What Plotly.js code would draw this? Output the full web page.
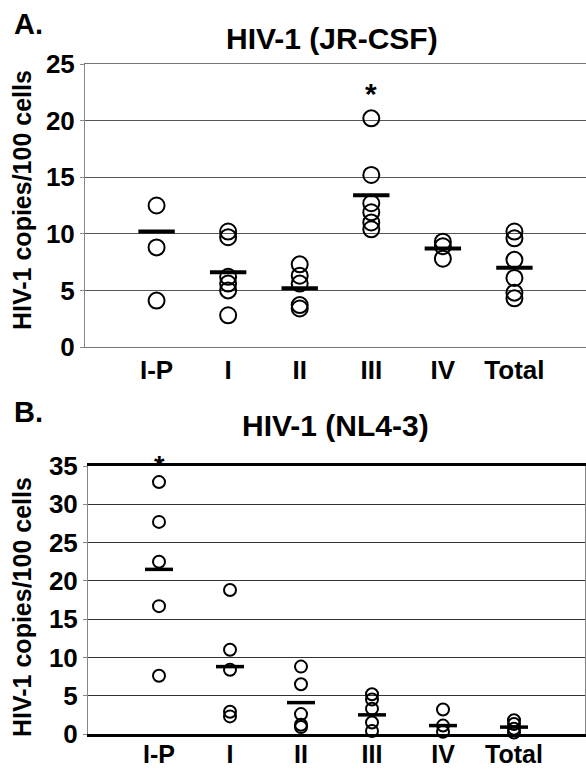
<!DOCTYPE html>
<html>
<head>
<meta charset="utf-8">
<script src="https://cdn.plot.ly/plotly-3.0.1.min.js"></script>
<style>html,body{margin:0;padding:0;background:#fff;}#chart{width:586px;height:770px;}</style>
</head>
<body>
<div id="chart"></div>
<script>
// Categories
var categories = ['I-P', 'I', 'II', 'III', 'IV', 'Total'];

// Panel A: HIV-1 (JR-CSF) individual values
var jrIP    = [12.5, 8.8, 4.1];
var jrI     = [10.2, 9.7, 6.2, 5.6, 5.0, 2.8];
var jrII    = [7.3, 6.3, 5.6, 3.7, 3.4];
var jrIII   = [20.2, 15.2, 12.7, 11.9, 11.0, 10.4];
var jrIV    = [9.3, 8.9, 7.8];
var jrTotal = [10.2, 9.6, 7.7, 6.1, 4.8, 4.3];
var jrMeans = [10.2, 6.6, 5.2, 13.4, 8.7, 7.0];
var jrStarCat = 'III';
var jrStarY = 22.4;

// Panel B: HIV-1 (NL4-3) individual values
var nlIP    = [32.9, 27.7, 22.5, 16.7, 7.6];
var nlI     = [18.8, 11.0, 8.4, 2.9, 2.3];
var nlII    = [8.8, 6.5, 2.6, 1.2, 0.9];
var nlIII   = [5.2, 4.5, 3.3, 1.5, 0.4];
var nlIV    = [3.2, 1.1, 0.3];
var nlTotal = [1.8, 1.3, 0.7, 0.2];
var nlMeans = [21.5, 8.8, 4.1, 2.5, 1.1, 0.9];
var nlStarCat = 'I-P';
var nlStarY = 35.0;

var yTicksA = [0, 5, 10, 15, 20, 25];
var yTicksB = [0, 5, 10, 15, 20, 25, 30, 35];

function flatten(groups) {
  var xs = [], ys = [];
  groups.forEach(function (g, i) {
    g.forEach(function (v) { xs.push(categories[i]); ys.push(v); });
  });
  return {x: xs, y: ys};
}

var FONT = 'Liberation Sans, Arial, sans-serif';
var ptsA = flatten([jrIP, jrI, jrII, jrIII, jrIV, jrTotal]);
var ptsB = flatten([nlIP, nlI, nlII, nlIII, nlIV, nlTotal]);

var traces = [
  {x: ptsA.x, y: ptsA.y, xaxis: 'x', yaxis: 'y', type: 'scatter', mode: 'markers', cliponaxis: false,
   marker: {symbol: 'circle-open', size: 16, color: '#000', line: {width: 2, color: '#000'}}, hoverinfo: 'y'},
  {x: categories, y: jrMeans, xaxis: 'x', yaxis: 'y', type: 'scatter', mode: 'markers', cliponaxis: false,
   marker: {symbol: 'line-ew', size: 26, color: '#000', line: {width: 4, color: '#000'}}},
  {x: ptsB.x, y: ptsB.y, xaxis: 'x2', yaxis: 'y2', type: 'scatter', mode: 'markers', cliponaxis: false,
   marker: {symbol: 'circle-open', size: 12, color: '#000', line: {width: 2, color: '#000'}}, hoverinfo: 'y'},
  {x: categories, y: nlMeans, xaxis: 'x2', yaxis: 'y2', type: 'scatter', mode: 'markers', cliponaxis: false,
   marker: {symbol: 'line-ew', size: 20, color: '#000', line: {width: 3.5, color: '#000'}}}
];

var tickFont = {family: FONT, size: 26, color: '#000', weight: 'bold'};

var layout = {
  width: 586, height: 770,
  margin: {l: 0, r: 0, t: 0, b: 0},
  paper_bgcolor: '#fff', plot_bgcolor: '#fff',
  showlegend: false,
  font: {family: FONT, color: '#000'},
  xaxis: {
    domain: [85/586, 1], range: [-1, 6], type: 'category', categoryarray: categories,
    tickvals: categories, ticktext: categories, tickfont: tickFont,
    showgrid: false, zeroline: false, showline: true, linecolor: '#777', linewidth: 1, mirror: true,
    ticks: '', fixedrange: true
  },
  yaxis: {
    domain: [(770-347)/770, (770-64)/770], range: [0, 25], tickvals: yTicksA,
    tickfont: tickFont, showgrid: true, gridcolor: '#555', gridwidth: 1,
    zeroline: false, showline: true, linecolor: '#888', linewidth: 1,
    ticks: 'outside', ticklen: 4, tickcolor: '#888', fixedrange: true
  },
  xaxis2: {
    domain: [88/586, 585/586], range: [-1, 6], type: 'category', categoryarray: categories,
    tickvals: categories, ticktext: categories, tickfont: {family: FONT, size: 25, color: '#000', weight: 'bold'},
    anchor: 'y2', ticklabelstandoff: -4,
    showgrid: false, zeroline: false, showline: true, linecolor: '#000', linewidth: 3, mirror: true,
    ticks: '', fixedrange: true
  },
  yaxis2: {
    domain: [(770-734)/770, (770-466)/770], range: [0, 35], tickvals: yTicksB, anchor: 'x2',
    tickfont: tickFont, showgrid: true, gridcolor: '#333', gridwidth: 1,
    zeroline: false, showline: true, linecolor: '#888', linewidth: 1, mirror: true,
    ticks: 'outside', ticklen: 4, tickcolor: '#888', fixedrange: true
  },
  annotations: [
    {text: 'A.', xref: 'paper', yref: 'paper', x: 12/586, y: 1 - 24/770, xanchor: 'left', yanchor: 'middle',
     showarrow: false, font: {family: FONT, size: 29, weight: 'bold'}},
    {text: 'HIV-1 (JR-CSF)', xref: 'paper', yref: 'paper', x: 332/586, y: 1 - 38/770, xanchor: 'center', yanchor: 'middle',
     showarrow: false, font: {family: FONT, size: 30, weight: 'bold'}},
    {text: 'HIV-1 copies/100 cells', xref: 'paper', yref: 'paper', x: 22/586, y: 1 - 200/770, xanchor: 'center', yanchor: 'middle',
     textangle: -90, showarrow: false, font: {family: FONT, size: 25, weight: 'bold'}},
    {text: '*', xref: 'x', yref: 'y', x: jrStarCat, y: jrStarY, xanchor: 'center', yanchor: 'middle',
     showarrow: false, font: {family: FONT, size: 30, weight: 'bold'}},
    {text: 'B.', xref: 'paper', yref: 'paper', x: 12/586, y: 1 - 412/770, xanchor: 'left', yanchor: 'middle',
     showarrow: false, font: {family: FONT, size: 29, weight: 'bold'}},
    {text: 'HIV-1 (NL4-3)', xref: 'paper', yref: 'paper', x: 335/586, y: 1 - 426/770, xanchor: 'center', yanchor: 'middle',
     showarrow: false, font: {family: FONT, size: 30, weight: 'bold'}},
    {text: 'HIV-1 copies/100 cells', xref: 'paper', yref: 'paper', x: 22/586, y: 1 - 607/770, xanchor: 'center', yanchor: 'middle',
     textangle: -90, showarrow: false, font: {family: FONT, size: 25, weight: 'bold'}},
    {text: '*', xref: 'x2', yref: 'y2', x: nlStarCat, y: nlStarY, xanchor: 'center', yanchor: 'middle',
     showarrow: false, font: {family: FONT, size: 27, weight: 'bold'}}
  ]
};

Plotly.newPlot('chart', traces, layout, {staticPlot: true, displayModeBar: false});
</script>
</body>
</html>
